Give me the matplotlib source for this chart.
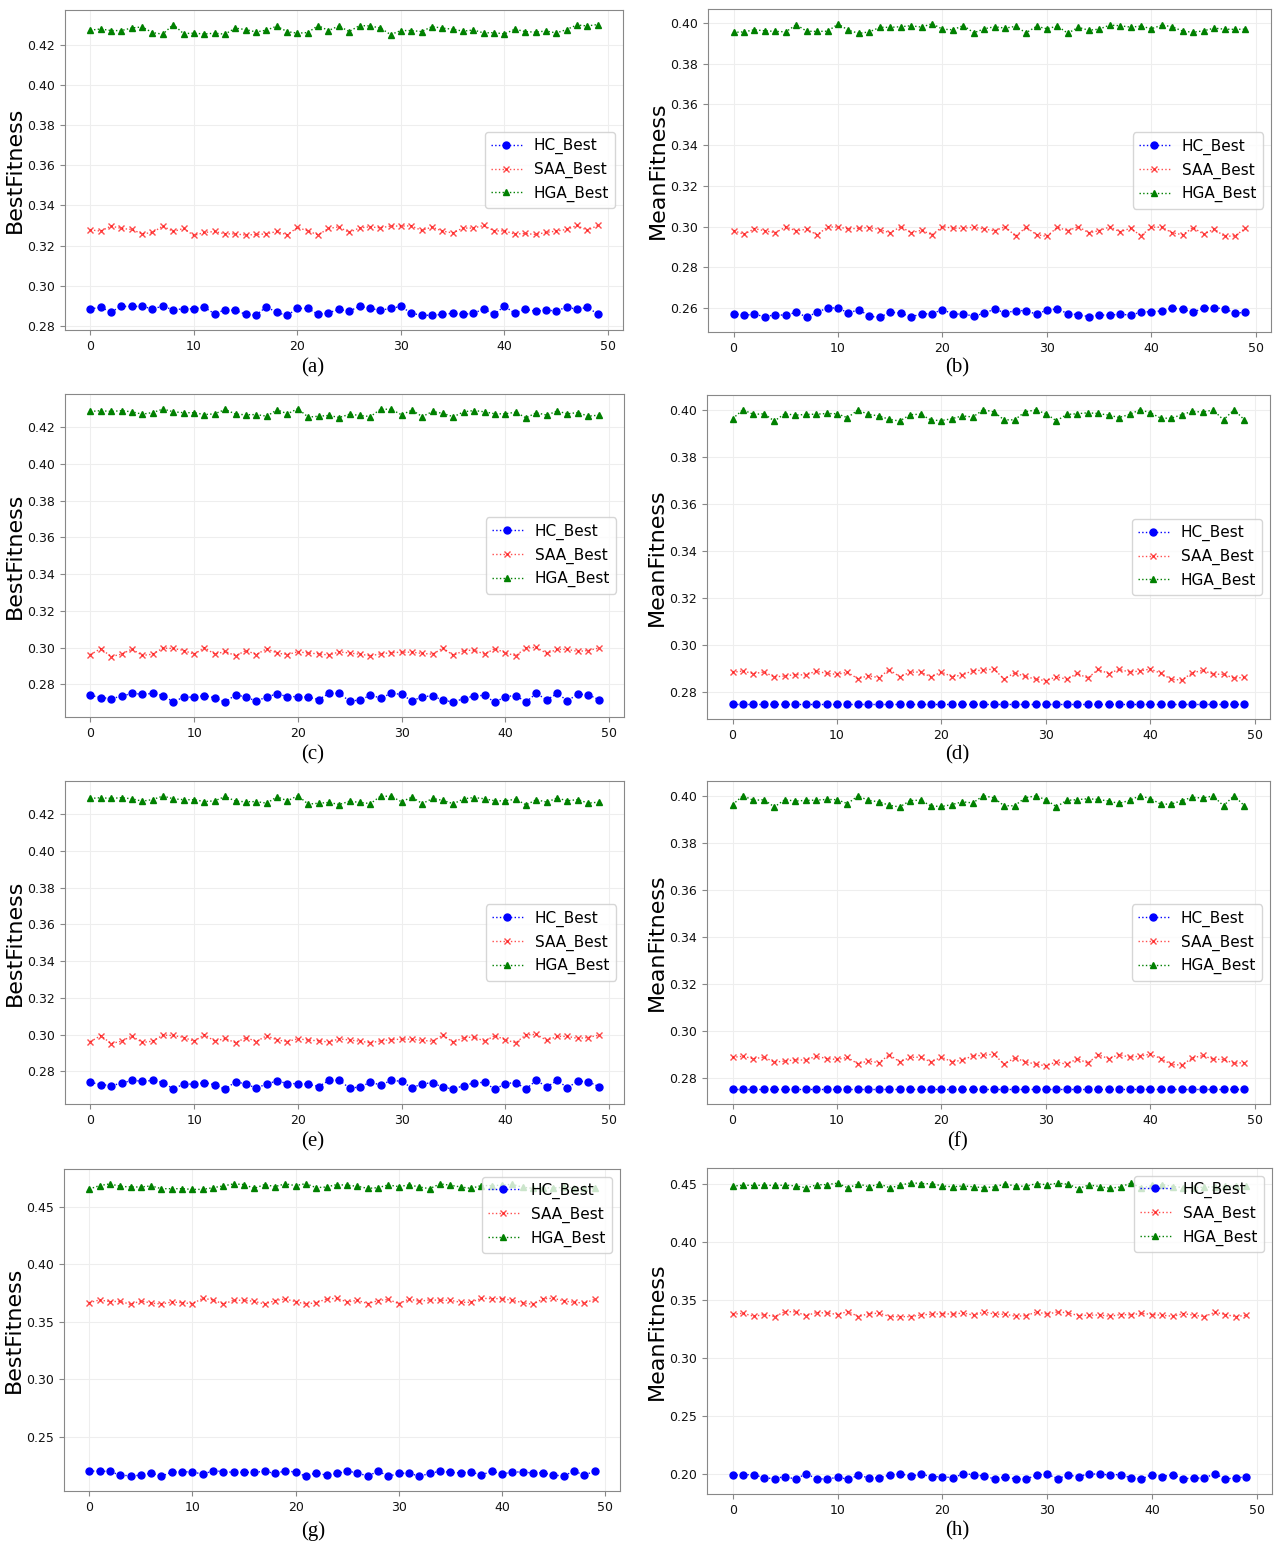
import matplotlib
matplotlib.use("Agg")
import matplotlib.pyplot as plt

# generations 0..49
gens = list(range(50))

# (a) best fitness, run 1
a_hc = [0.2885, 0.2892, 0.2870, 0.2897, 0.2897, 0.2897, 0.2885, 0.2898, 0.2880, 0.2885,
        0.2885, 0.2893, 0.2860, 0.2880, 0.2877, 0.2858, 0.2853, 0.2895, 0.2867, 0.2852,
        0.2887, 0.2887, 0.2857, 0.2865, 0.2882, 0.2873, 0.2898, 0.2887, 0.2878, 0.2887,
        0.2897, 0.2863, 0.2853, 0.2853, 0.2857, 0.2863, 0.2858, 0.2862, 0.2885, 0.2857,
        0.2898, 0.2863, 0.2883, 0.2873, 0.2878, 0.2875, 0.2893, 0.2883, 0.2892, 0.2860]
a_saa = [0.3278, 0.3272, 0.3297, 0.3285, 0.3280, 0.3258, 0.3265, 0.3297, 0.3270, 0.3285,
         0.3250, 0.3265, 0.3270, 0.3258, 0.3258, 0.3252, 0.3255, 0.3258, 0.3270, 0.3253,
         0.3290, 0.3273, 0.3253, 0.3285, 0.3293, 0.3265, 0.3288, 0.3293, 0.3288, 0.3297,
         0.3297, 0.3298, 0.3275, 0.3292, 0.3272, 0.3263, 0.3287, 0.3287, 0.3300, 0.3273,
         0.3273, 0.3257, 0.3260, 0.3255, 0.3265, 0.3272, 0.3280, 0.3300, 0.3275, 0.3300]
a_hga = [0.4272, 0.4278, 0.4270, 0.4270, 0.4283, 0.4288, 0.4260, 0.4252, 0.4300, 0.4255,
         0.4257, 0.4253, 0.4257, 0.4252, 0.4282, 0.4275, 0.4263, 0.4272, 0.4292, 0.4265,
         0.4257, 0.4260, 0.4295, 0.4270, 0.4293, 0.4265, 0.4295, 0.4293, 0.4283, 0.4250,
         0.4270, 0.4270, 0.4265, 0.4290, 0.4282, 0.4277, 0.4267, 0.4273, 0.4258, 0.4260,
         0.4253, 0.4277, 0.4265, 0.4262, 0.4268, 0.4258, 0.4275, 0.4298, 0.4293, 0.4300]

# (b) mean fitness, run 1
b_hc = [0.2572, 0.2564, 0.2569, 0.2557, 0.2567, 0.2564, 0.2579, 0.2555, 0.2579, 0.2600,
        0.2600, 0.2575, 0.2592, 0.2559, 0.2554, 0.2580, 0.2574, 0.2557, 0.2570, 0.2572,
        0.2592, 0.2570, 0.2570, 0.2560, 0.2574, 0.2595, 0.2575, 0.2587, 0.2587, 0.2569,
        0.2590, 0.2595, 0.2572, 0.2567, 0.2557, 0.2565, 0.2565, 0.2569, 0.2565, 0.2579,
        0.2582, 0.2585, 0.2600, 0.2593, 0.2579, 0.2600, 0.2600, 0.2597, 0.2574, 0.2579]
b_saa = [0.2980, 0.2962, 0.2990, 0.2979, 0.2970, 0.2998, 0.2979, 0.2987, 0.2959, 0.2998,
         0.2998, 0.2988, 0.2992, 0.2995, 0.2985, 0.2969, 0.3000, 0.2969, 0.2982, 0.2959,
         0.3000, 0.2992, 0.2992, 0.2997, 0.2988, 0.2979, 0.3000, 0.2952, 0.2997, 0.2960,
         0.2952, 0.2997, 0.2979, 0.3000, 0.2969, 0.2980, 0.2998, 0.2974, 0.2992, 0.2955,
         0.2997, 0.2997, 0.2969, 0.2960, 0.2995, 0.2962, 0.2988, 0.2952, 0.2954, 0.2992]
b_hga = [0.3954, 0.3957, 0.3967, 0.3962, 0.3959, 0.3957, 0.3992, 0.3960, 0.3959, 0.3960,
         0.3995, 0.3965, 0.3949, 0.3957, 0.3979, 0.3979, 0.3982, 0.3987, 0.3980, 0.3997,
         0.3970, 0.3967, 0.3988, 0.3952, 0.3972, 0.3982, 0.3975, 0.3984, 0.3952, 0.3984,
         0.3972, 0.3985, 0.3950, 0.3979, 0.3965, 0.3970, 0.3990, 0.3987, 0.3980, 0.3985,
         0.3972, 0.3990, 0.3982, 0.3960, 0.3955, 0.3962, 0.3975, 0.3970, 0.3969, 0.3970]

# (c) best fitness, run 2  (panel (e) shows the same run)
c_hc = [0.2741, 0.2729, 0.2723, 0.2736, 0.2752, 0.2747, 0.2751, 0.2740, 0.2705, 0.2732,
        0.2731, 0.2740, 0.2727, 0.2703, 0.2745, 0.2731, 0.2710, 0.2732, 0.2749, 0.2734,
        0.2734, 0.2731, 0.2718, 0.2751, 0.2752, 0.2709, 0.2716, 0.2741, 0.2727, 0.2751,
        0.2747, 0.2710, 0.2734, 0.2738, 0.2714, 0.2705, 0.2723, 0.2738, 0.2741, 0.2703,
        0.2734, 0.2740, 0.2705, 0.2752, 0.2716, 0.2751, 0.2712, 0.2747, 0.2745, 0.2718]
c_saa = [0.2963, 0.2995, 0.2952, 0.2965, 0.2993, 0.2958, 0.2965, 0.2998, 0.2996, 0.2985,
         0.2965, 0.3000, 0.2965, 0.2980, 0.2956, 0.2985, 0.2963, 0.2995, 0.2971, 0.2963,
         0.2978, 0.2971, 0.2967, 0.2960, 0.2978, 0.2971, 0.2965, 0.2956, 0.2967, 0.2973,
         0.2976, 0.2976, 0.2969, 0.2965, 0.2998, 0.2958, 0.2985, 0.2987, 0.2965, 0.2995,
         0.2973, 0.2956, 0.3000, 0.3002, 0.2969, 0.2991, 0.2991, 0.2980, 0.2985, 0.2998]
c_hga = [0.4286, 0.4290, 0.4286, 0.4290, 0.4284, 0.4271, 0.4280, 0.4299, 0.4284, 0.4279,
         0.4279, 0.4269, 0.4273, 0.4297, 0.4271, 0.4268, 0.4269, 0.4260, 0.4295, 0.4273,
         0.4301, 0.4255, 0.4260, 0.4264, 0.4253, 0.4271, 0.4264, 0.4258, 0.4299, 0.4297,
         0.4268, 0.4293, 0.4258, 0.4286, 0.4275, 0.4257, 0.4284, 0.4291, 0.4284, 0.4273,
         0.4273, 0.4282, 0.4251, 0.4279, 0.4266, 0.4288, 0.4273, 0.4280, 0.4260, 0.4266]

# (d) mean fitness, run 2  (panel (f) shows the same run)
d_hc = [0.275] * 50
d_saa = [0.2886, 0.2891, 0.2880, 0.2887, 0.2866, 0.2870, 0.2876, 0.2874, 0.2891, 0.2881,
         0.2877, 0.2886, 0.2858, 0.2871, 0.2863, 0.2897, 0.2867, 0.2886, 0.2887, 0.2866,
         0.2887, 0.2867, 0.2874, 0.2893, 0.2894, 0.2900, 0.2857, 0.2884, 0.2868, 0.2857,
         0.2850, 0.2867, 0.2856, 0.2881, 0.2861, 0.2898, 0.2880, 0.2898, 0.2887, 0.2891,
         0.2900, 0.2881, 0.2856, 0.2853, 0.2883, 0.2894, 0.2878, 0.2877, 0.2861, 0.2864]
d_hga = [0.3962, 0.4000, 0.3980, 0.3983, 0.3952, 0.3983, 0.3977, 0.3980, 0.3981, 0.3984,
         0.3983, 0.3966, 0.3999, 0.3980, 0.3974, 0.3959, 0.3952, 0.3979, 0.3981, 0.3956,
         0.3954, 0.3962, 0.3974, 0.3969, 0.4000, 0.3991, 0.3957, 0.3957, 0.3991, 0.3999,
         0.3983, 0.3953, 0.3980, 0.3983, 0.3987, 0.3984, 0.3977, 0.3967, 0.3980, 0.4000,
         0.3987, 0.3964, 0.3964, 0.3979, 0.3993, 0.3990, 0.3999, 0.3957, 0.4000, 0.3957]

# (g) best fitness, run 3
g_hc = [0.2204, 0.2201, 0.2201, 0.2166, 0.2163, 0.2166, 0.2186, 0.2157, 0.2195, 0.2195,
        0.2198, 0.2174, 0.2207, 0.2198, 0.2192, 0.2192, 0.2192, 0.2201, 0.2183, 0.2204,
        0.2195, 0.2157, 0.2189, 0.2166, 0.2183, 0.2201, 0.2189, 0.2157, 0.2204, 0.2157,
        0.2183, 0.2186, 0.2157, 0.2183, 0.2201, 0.2192, 0.2186, 0.2198, 0.2166, 0.2204,
        0.2177, 0.2195, 0.2195, 0.2186, 0.2189, 0.2166, 0.2163, 0.2201, 0.2169, 0.2201]
g_saa = [0.3667, 0.3691, 0.3676, 0.3679, 0.3652, 0.3682, 0.3664, 0.3655, 0.3673, 0.3667,
         0.3658, 0.3705, 0.3691, 0.3655, 0.3688, 0.3688, 0.3679, 0.3655, 0.3685, 0.3699,
         0.3676, 0.3655, 0.3667, 0.3699, 0.3705, 0.3673, 0.3688, 0.3658, 0.3685, 0.3696,
         0.3658, 0.3699, 0.3679, 0.3691, 0.3688, 0.3688, 0.3670, 0.3670, 0.3705, 0.3702,
         0.3702, 0.3688, 0.3667, 0.3652, 0.3702, 0.3705, 0.3682, 0.3670, 0.3664, 0.3696]
g_hga = [0.4655, 0.4685, 0.4700, 0.4679, 0.4673, 0.4673, 0.4682, 0.4658, 0.4658, 0.4658,
         0.4652, 0.4652, 0.4667, 0.4682, 0.4700, 0.4694, 0.4661, 0.4694, 0.4676, 0.4700,
         0.4685, 0.4702, 0.4667, 0.4673, 0.4694, 0.4688, 0.4679, 0.4661, 0.4667, 0.4691,
         0.4676, 0.4691, 0.4673, 0.4658, 0.4700, 0.4688, 0.4673, 0.4661, 0.4685, 0.4685,
         0.4688, 0.4697, 0.4670, 0.4661, 0.4667, 0.4664, 0.4670, 0.4667, 0.4667, 0.4661]

# (h) mean fitness, run 3
h_hc = [0.1991, 0.1994, 0.1997, 0.1968, 0.1962, 0.1980, 0.1957, 0.2003, 0.1962, 0.1957,
        0.1974, 0.1957, 0.1991, 0.1968, 0.1968, 0.1994, 0.2003, 0.1983, 0.2000, 0.1977,
        0.1980, 0.1968, 0.2003, 0.1997, 0.1983, 0.1959, 0.1977, 0.1959, 0.1957, 0.1994,
        0.2000, 0.1962, 0.1991, 0.1980, 0.2003, 0.2000, 0.1994, 0.1997, 0.1968, 0.1959,
        0.1997, 0.1980, 0.1994, 0.1962, 0.1965, 0.1968, 0.2003, 0.1959, 0.1968, 0.1977]
h_saa = [0.3376, 0.3384, 0.3358, 0.3373, 0.3355, 0.3399, 0.3396, 0.3364, 0.3390, 0.3387,
         0.3373, 0.3399, 0.3355, 0.3381, 0.3384, 0.3355, 0.3355, 0.3355, 0.3370, 0.3376,
         0.3381, 0.3376, 0.3387, 0.3367, 0.3396, 0.3376, 0.3376, 0.3358, 0.3364, 0.3396,
         0.3376, 0.3396, 0.3387, 0.3364, 0.3367, 0.3370, 0.3358, 0.3373, 0.3370, 0.3384,
         0.3373, 0.3367, 0.3358, 0.3381, 0.3367, 0.3355, 0.3393, 0.3373, 0.3355, 0.3367]
h_hga = [0.4477, 0.4486, 0.4483, 0.4486, 0.4483, 0.4486, 0.4480, 0.4462, 0.4488, 0.4491,
         0.4503, 0.4462, 0.4497, 0.4471, 0.4497, 0.4462, 0.4486, 0.4506, 0.4500, 0.4497,
         0.4480, 0.4471, 0.4480, 0.4471, 0.4465, 0.4471, 0.4497, 0.4477, 0.4477, 0.4500,
         0.4488, 0.4503, 0.4494, 0.4457, 0.4488, 0.4474, 0.4459, 0.4471, 0.4503, 0.4462,
         0.4483, 0.4491, 0.4474, 0.4465, 0.4465, 0.4468, 0.4471, 0.4477, 0.4477, 0.4480]

W, H = 1274, 1547

# (label, ylabel, series, legend loc, axes box in px: left, top, right, bottom, caption x, caption y)
panels = [
    ("(a)", "BestFitness", (a_hc, a_saa, a_hga), "center right", (65, 10, 623, 330), 313, 368),
    ("(b)", "MeanFitness", (b_hc, b_saa, b_hga), "center right", (708, 9, 1271, 332), 957, 368),
    ("(c)", "BestFitness", (c_hc, c_saa, c_hga), "center right", (65, 394, 624, 717), 313, 755),
    ("(d)", "MeanFitness", (d_hc, d_saa, d_hga), "center right", (707, 395, 1270, 719), 957, 755),
    ("(e)", "BestFitness", (c_hc, c_saa, c_hga), "center right", (65, 781, 624, 1104), 313, 1142),
    ("(f)", "MeanFitness", (d_hc, d_saa, d_hga), "center right", (707, 781, 1270, 1104), 957, 1142),
    ("(g)", "BestFitness", (g_hc, g_saa, g_hga), "upper right", (64, 1169, 620, 1491), 313, 1531),
    ("(h)", "MeanFitness", (h_hc, h_saa, h_hga), "upper right", (707, 1168, 1272, 1494), 957, 1531),
]

styles = [
    dict(label="HC_Best", color="blue", marker="o", markersize=5),
    dict(label="SAA_Best", color="red", marker="x", markersize=5, alpha=0.7),
    dict(label="HGA_Best", color="green", marker="^", markersize=5),
]

fig = plt.figure(figsize=(W / 100, H / 100), dpi=100)

for cap, ylab, series, loc, (l, t, r, b), cx, cy in panels:
    ax = fig.add_axes([l / W, 1 - b / H, (r - l) / W, (b - t) / H])
    for ys, st in zip(series, styles):
        ax.plot(gens, ys, linestyle=":", linewidth=1.0, **st)
    ax.grid(True, color="#eeeeee", linewidth=0.8)
    ax.set_axisbelow(True)
    for s in ax.spines.values():
        s.set_color("#888888")
    ax.tick_params(labelsize=9, colors="#111111")
    ax.tick_params(color="#888888")
    ax.set_xticks([0, 10, 20, 30, 40, 50])
    ax.set_ylabel(ylab, fontsize=16, labelpad=2)
    ax.legend(loc=loc, fontsize=11)
    fig.text(cx / W, 1 - cy / H, cap, ha="center", va="center",
             family="Liberation Serif", fontsize=15)

fig.savefig("out.png", dpi=100)
